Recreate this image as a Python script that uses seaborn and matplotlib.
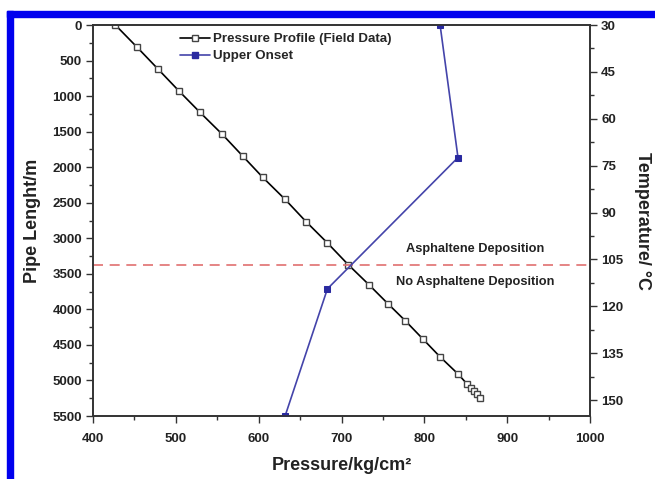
import matplotlib
matplotlib.use("Agg")
import matplotlib.pyplot as plt
import seaborn as sns
import pandas as pd
from matplotlib.patches import Rectangle
from matplotlib.lines import Line2D
from matplotlib.ticker import MultipleLocator

# Pressure profile (field data)
pressure = [427, 453, 478.5, 504, 529, 556, 581, 605, 632, 657, 682.5, 708, 733,
            756, 777, 798, 819, 840.6, 851.5, 856, 860, 863.6, 867]
depth = [0, 310, 620, 931, 1227, 1537, 1847, 2144, 2454, 2764, 3060, 3370, 3652,
         3920, 4160, 4414, 4668, 4908, 5049, 5105, 5147, 5190, 5246]

# Upper onset (pressure vs temperature)
onset_pressure = [819, 840.6, 683, 632]
onset_temp = [30, 72.4, 114.4, 155]

deposition_depth = 3380

sns.set_theme(style="white")
plt.rcParams['font.family'] = ['Liberation Sans', 'DejaVu Sans']

fig = plt.figure(figsize=(6.55, 4.79), dpi=100)
ax = fig.add_axes([0.142, 0.1315, 0.7588, 0.8163])

df1 = pd.DataFrame({"p": pressure, "d": depth})
df2 = pd.DataFrame({"p": onset_pressure, "t": onset_temp})

sns.lineplot(data=df1, x="p", y="d", sort=False, estimator=None, ax=ax,
             color="black", lw=1.2, marker="s", markersize=5,
             markerfacecolor="white", markeredgecolor="#444444", markeredgewidth=1.0)
ax.axhline(deposition_depth, color="#e07070", lw=1.2, ls=(0, (6, 4)))

ax.set_xlim(400, 1000)
ax.set_ylim(5500, 0)
ax.xaxis.set_major_locator(MultipleLocator(100))
ax.xaxis.set_minor_locator(MultipleLocator(50))
ax.yaxis.set_major_locator(MultipleLocator(500))
ax.yaxis.set_minor_locator(MultipleLocator(250))

ax2 = ax.twinx()
sns.lineplot(data=df2, x="p", y="t", sort=False, estimator=None, ax=ax2,
             color="#4444aa", lw=1.2, marker="s", markersize=4.5,
             markerfacecolor="#2a2aa0", markeredgecolor="#2a2aa0")
ax2.set_ylim(155.1, 30)
ax2.yaxis.set_major_locator(MultipleLocator(15))
ax2.yaxis.set_minor_locator(MultipleLocator(7.5))

for a in (ax, ax2):
    for s in a.spines.values():
        s.set_color("#333333")
        s.set_linewidth(1.2)
    a.tick_params(which="major", length=5, width=1, color="#333333",
                  labelsize=9.5, direction="out", pad=3)
    a.tick_params(which="minor", length=3, width=1, color="#333333", direction="out")
    for lab in a.get_xticklabels() + a.get_yticklabels():
        lab.set_fontweight("bold")
        lab.set_color("#222222")

ax.tick_params(axis="x", which="both", bottom=True, top=False)
ax.tick_params(axis="x", which="major", pad=7)
ax.tick_params(axis="y", which="both", left=True, right=False)
ax2.tick_params(axis="y", which="both", right=True, left=False)

ax.set_xlabel("Pressure/kg/cm²", fontsize=13, fontweight="bold",
              color="#222222", labelpad=9)
ax.set_ylabel("Pipe Lenght/m", fontsize=13, fontweight="bold", color="#222222", labelpad=8)
ax2.set_ylabel("Temperature/ °C", fontsize=13, fontweight="bold", color="#222222",
               rotation=-90, labelpad=20)

ax.text(0.769, 0.427, "Asphaltene Deposition", transform=ax.transAxes,
        ha="center", va="center", fontsize=9.2, fontweight="bold", color="#222222")
ax.text(0.769, 0.343, "No Asphaltene Deposition", transform=ax.transAxes,
        ha="center", va="center", fontsize=9.2, fontweight="bold", color="#222222")

handles = [
    Line2D([], [], color="black", lw=1.2, marker="s", markersize=4,
           markerfacecolor="white", markeredgecolor="#444444"),
    Line2D([], [], color="#4444aa", lw=1.2, marker="s", markersize=4,
           markerfacecolor="#2a2aa0", markeredgecolor="#2a2aa0"),
]
leg = ax2.legend(handles, ["Pressure Profile (Field Data)", "Upper Onset"],
                 loc="upper left", bbox_to_anchor=(0.15, 1.01), frameon=False,
                 handlelength=2.3, handletextpad=0.2, labelspacing=0.35,
                 prop={"weight": "bold", "size": 9.6})

# blue frame at top and left
fig.patches.append(Rectangle((7 / 655, 0), 6 / 655, 1 - 11 / 479, transform=fig.transFigure,
                             color="#0000ee", zorder=10))
fig.patches.append(Rectangle((7 / 655, 1 - 17 / 479), 1, 6 / 479, transform=fig.transFigure,
                             color="#0000ee", zorder=10))

fig.savefig("out.png", dpi=100)
